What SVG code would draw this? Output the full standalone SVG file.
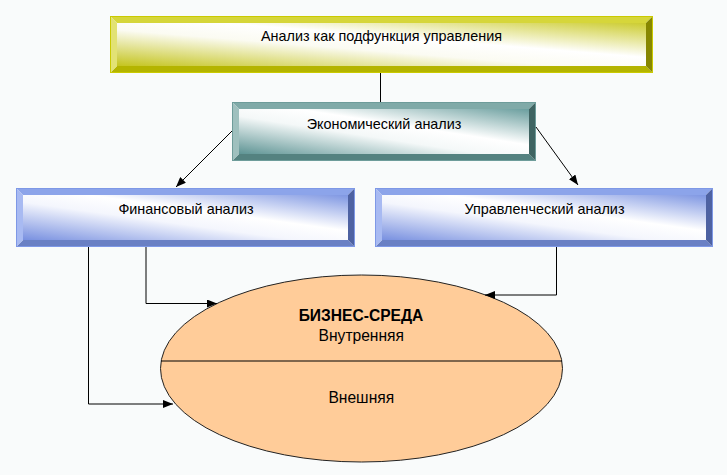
<svg xmlns="http://www.w3.org/2000/svg" width="727" height="475" viewBox="0 0 727 475">
<style>
text{font-family:"Liberation Sans",Arial,sans-serif;fill:#000;text-anchor:middle}
.lbl{font-size:14.4px}
.big{font-size:15.6px}
.bold{font-size:15.6px;font-weight:bold}
.con{fill:none;stroke:#000;stroke-width:1}
.y .t{fill:#d6d63a}.y .l{fill:#e2e274}.y .b{fill:#b4b400}.y .r{fill:#878700}.y .o{fill:none;stroke:#caca00;stroke-width:1}
.g .t{fill:#80aaa8}.g .l{fill:#9fc0be}.g .b{fill:#548280}.g .r{fill:#3f6462}.g .o{fill:none;stroke:#6e9c9a;stroke-width:1}
.u .t{fill:#8ca4ea}.u .l{fill:#a8baf2}.u .b{fill:#6a80c4}.u .r{fill:#4e62a2}.u .o{fill:none;stroke:#7e98e6;stroke-width:1}
</style>
<defs>
<linearGradient id="gy" x1="0" y1="1" x2="1" y2="0">
<stop offset="0" stop-color="#c4c41e"/><stop offset="0.42" stop-color="#fbfbf2"/><stop offset="0.6" stop-color="#ffffff"/><stop offset="1" stop-color="#cccc30"/>
</linearGradient>
<linearGradient id="gg" x1="0" y1="1" x2="1" y2="0">
<stop offset="0" stop-color="#5e9494"/><stop offset="0.42" stop-color="#f4f8f8"/><stop offset="0.6" stop-color="#ffffff"/><stop offset="1" stop-color="#6a9e9e"/>
</linearGradient>
<linearGradient id="gu" x1="0" y1="1" x2="1" y2="0">
<stop offset="0" stop-color="#7890e0"/><stop offset="0.42" stop-color="#f4f6fd"/><stop offset="0.6" stop-color="#ffffff"/><stop offset="1" stop-color="#7e96e2"/>
</linearGradient>
<marker id="arr" markerUnits="userSpaceOnUse" markerWidth="10" markerHeight="8" refX="10" refY="4" orient="auto" viewBox="0 0 10 8">
<path d="M0,0 L10,4 L0,8 z" fill="#000"/>
</marker>
</defs>
<rect width="727" height="475" fill="#f9fbfb"/>

<g id="node-top" class="y">
<polygon class="t" points="110,16 653,16 646,23 117,23"/>
<polygon class="b" points="110,73 653,73 646,66 117,66"/>
<polygon class="l" points="110,16 117,23 117,66 110,73"/>
<polygon class="r" points="653,16 646,23 646,66 653,73"/>
<rect x="117" y="23" width="529" height="43" fill="url(#gy)"/>
<rect class="o" x="110.5" y="16.5" width="542" height="56"/>
<text class="lbl" x="381.5" y="40.5">Анализ как подфункция управления</text>
</g>

<g id="node-econ" class="g">
<polygon class="t" points="232,102 536,102 529,109 239,109"/>
<polygon class="b" points="232,161 536,161 529,154 239,154"/>
<polygon class="l" points="232,102 239,109 239,154 232,161"/>
<polygon class="r" points="536,102 529,109 529,154 536,161"/>
<rect x="239" y="109" width="290" height="45" fill="url(#gg)"/>
<rect class="o" x="232.5" y="102.5" width="303" height="58"/>
<text class="lbl" x="384" y="128.5">Экономический анализ</text>
</g>

<g id="node-fin" class="u">
<polygon class="t" points="16,188 355,188 348,195 23,195"/>
<polygon class="b" points="16,247 355,247 348,240 23,240"/>
<polygon class="l" points="16,188 23,195 23,240 16,247"/>
<polygon class="r" points="355,188 348,195 348,240 355,247"/>
<rect x="23" y="195" width="325" height="45" fill="url(#gu)"/>
<rect class="o" x="16.5" y="188.5" width="338" height="58"/>
<text class="lbl" x="186" y="214">Финансовый анализ</text>
</g>

<g id="node-upr" class="u">
<polygon class="t" points="375,188 713,188 706,195 382,195"/>
<polygon class="b" points="375,247 713,247 706,240 382,240"/>
<polygon class="l" points="375,188 382,195 382,240 375,247"/>
<polygon class="r" points="713,188 706,195 706,240 713,247"/>
<rect x="382" y="195" width="324" height="45" fill="url(#gu)"/>
<rect class="o" x="375.5" y="188.5" width="337" height="58"/>
<text class="lbl" x="544.5" y="214">Управленческий анализ</text>
</g>

<g id="node-business">
<ellipse cx="361.5" cy="368.5" rx="201" ry="93.5" fill="#ffcc99" stroke="#222" stroke-width="1"/>
<line x1="161" y1="361" x2="562" y2="361" stroke="#000" stroke-width="1"/>
<text class="bold" x="361" y="320.5">БИЗНЕС-СРЕДА</text>
<text class="big" x="361.3" y="340.5">Внутренняя</text>
<text class="big" x="361.3" y="402.5">Внешняя</text>
</g>

<g id="connectors">
<line class="con" x1="380.5" y1="73" x2="380.5" y2="102"/>
<line class="con" x1="232" y1="131" x2="176" y2="187" marker-end="url(#arr)"/>
<line class="con" x1="536" y1="127" x2="578" y2="185" marker-end="url(#arr)"/>
<polyline class="con" points="88.5,247 88.5,404 173,404" marker-end="url(#arr)"/>
<polyline class="con" points="146,247 146,303.5 217,303.5" marker-end="url(#arr)"/>
<polyline class="con" points="556.5,247 556.5,295 485,295" marker-end="url(#arr)"/>
</g>
</svg>
